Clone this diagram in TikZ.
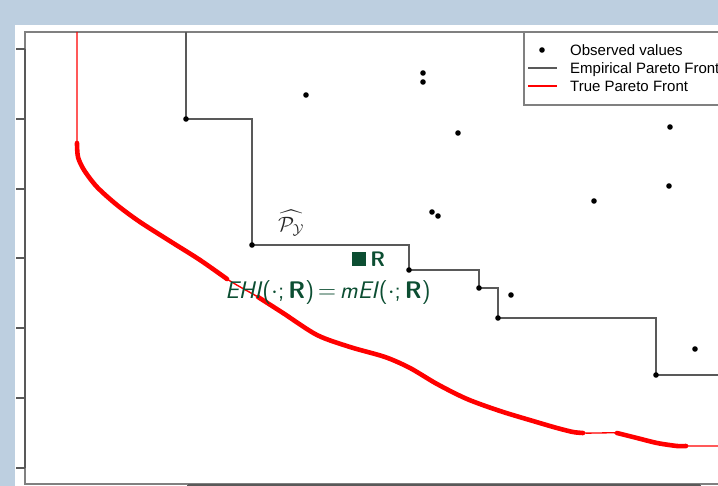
\documentclass[tikz,border=0pt]{standalone}
\usepackage{amsmath}
\usepackage{amssymb}
\usepackage{fontspec}
\newfontfamily\legendfont{Liberation Sans}
\usetikzlibrary{positioning}
\definecolor{slideblue}{RGB}{189,207,224}
\definecolor{refgreen}{RGB}{12,78,50}
\newcommand{\obs}[1]{\fill (#1) circle (2.8pt);}

\begin{document}
\begin{tikzpicture}[x=1pt,y=-1pt,
	frame/.style={black!50, line width=1.2pt},
	axis/.style={black!65, line width=1.1pt},
	front/.style={black!65, line width=1.1pt},
	truefront/.style={red, line width=1.4pt},
	truebold/.style={red, line width=4.6pt, line cap=round}]
	\useasboundingbox (0,0) rectangle (718,486);
	\clip (0,0) rectangle (718,486);
	\fill[slideblue] (0,0) rectangle (718,486);
	\fill[white] (15,25) rectangle (730,500);

	% plot box and axes
	\draw[frame] (730,32) -- (25,32) -- (25,484) -- (730,484);
	\draw[axis] (25,49) -- (25,468);
	\draw[axis] (188,485) -- (700,485);
	\foreach \y in {49,119,189,258,328,398,468}
		\draw[axis] (16,\y) -- (25,\y);
	\foreach \x in {188,359,530,700}
		\draw[axis] (\x,485) -- (\x,494);

	% empirical front
	\coordinate (s0) at (186,32);
	\coordinate (p1) at (186,119);
	\coordinate (c1) at (252,119);
	\coordinate (p2) at (252,245);
	\coordinate (c2) at (409,245);
	\coordinate (p3) at (409,270);
	\coordinate (c3) at (479,270);
	\coordinate (p4) at (479,288);
	\coordinate (c4) at (498,288);
	\coordinate (p5) at (498,318);
	\coordinate (c5) at (656,318);
	\coordinate (p6) at (656,375);
	\coordinate (s7) at (730,375);
	\draw[front] (s0) -- (p1) -- (c1) -- (p2) -- (c2) -- (p3) -- (c3) -- (p4) -- (c4) -- (p5) -- (c5) -- (p6) -- (s7);

	% observed values
	\foreach \p in {p1,p2,p3,p4,p5,p6}
		\fill (\p) circle (2.8pt);
	\obs{306,95}
	\obs{423,73}
	\obs{423,82}
	\obs{458,133}
	\obs{432,212}
	\obs{438,216}
	\obs{511,295}
	\obs{670,127}
	\obs{669,186}
	\obs{594,201}
	\obs{695,349}

	% true front
	\draw[truefront] (77,32) -- (77,143) plot[smooth] coordinates {(77,143) (78,157) (84,170) (97,187) (117,205) (140,222) (173,243) (200,260) (227,279) (242,288) (258,297) (283,313) (317,335) (350,347) (385,357) (410,368) (437,384) (467,399) (500,411) (533,421) (557,428) (573,432) (583,433) (600,433) (617,433) (637,438) (657,443) (677,446) (686,446)} -- (730,446);
	\draw[truebold] plot[smooth] coordinates {(77,143) (78,157) (84,170) (97,187) (117,205) (140,222) (173,243) (200,260) (227,279)};
	\draw[truebold] plot[smooth] coordinates {(258,297) (283,313) (317,335) (350,347) (385,357) (410,368) (437,384) (467,399) (500,411) (533,421) (557,428) (573,432) (583,433)};
	\draw[truebold] plot[smooth] coordinates {(617,433) (637,438) (657,443) (677,446) (686,446)};

	% labels
	\node[black!85, font=\fontsize{22}{26}\selectfont] (phat) at (291,223) {$\widehat{\mathcal{P}_{\mathcal{Y}}}$};
	\node[fill=refgreen, minimum size=14pt, inner sep=0pt] (refsq) at (359,259) {};
	\node[refgreen, right=4pt of refsq, inner sep=0pt, font=\fontsize{21}{24}\selectfont\sffamily\bfseries] (refR) {R};
	\node[refgreen, anchor=base, inner sep=0pt, font=\fontsize{24}{28}\selectfont\sffamily] (ehi) at (328,299)
		{\textit{EHI}(${\cdot}$;\,\textbf{R})\,$=$\,\textit{mEI}(${\cdot}$;\,\textbf{R})};

	% legend
	\draw[frame] (730,105) -- (524,105) -- (524,32);
	\coordinate (l1) at (542,50);
	\coordinate (l2a) at (528,68);
	\coordinate (l2b) at (557,68);
	\coordinate (l3a) at (528,86);
	\coordinate (l3b) at (557,86);
	\fill (l1) circle (2.8pt);
	\draw[front] (l2a) -- (l2b);
	\draw[red, line width=2pt] (l3a) -- (l3b);
	\node[anchor=base west, inner sep=0pt, font=\legendfont\fontsize{15}{18}\selectfont] (lobs) at (570,56) {Observed values};
	\node[anchor=base west, inner sep=0pt, font=\legendfont\fontsize{15}{18}\selectfont] (lemp) at (570,74) {Empirical Pareto Front};
	\node[anchor=base west, inner sep=0pt, font=\legendfont\fontsize{15}{18}\selectfont] (ltrue) at (570,92) {True Pareto Front};
\end{tikzpicture}
\end{document}
